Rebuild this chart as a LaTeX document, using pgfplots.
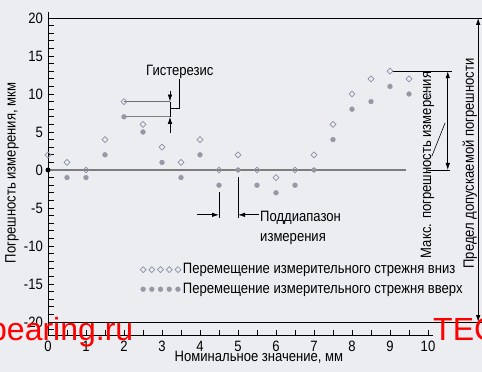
\documentclass[border=0pt]{standalone}
\usepackage{pgfplots}
\pgfplotsset{compat=1.18}
\usepackage{fontspec}
\setmainfont{Liberation Sans}[FakeStretch=0.87]
\newfontfamily\wmfont{Liberation Sans}
\usetikzlibrary{arrows.meta}
\definecolor{bg}{RGB}{236,237,240}
\definecolor{diacol}{RGB}{138,144,168}
\definecolor{dotcol}{RGB}{150,152,166}
\definecolor{zcol}{RGB}{125,125,125}
\newcommand\ff{\fontsize{15}{18}\selectfont}
\begin{document}
\ff
\begin{tikzpicture}[font=\ff, >={Latex[length=7pt,width=4.5pt]}]
\fill[bg] (-48pt,-202pt) rectangle (434pt,170pt);
\begin{axis}[
  at={(0,0)}, anchor=origin,
  x=38pt, y=7.6pt,
  xmin=0, xmax=10.13, ymin=-21.8, ymax=20.8,
  axis x line=bottom, axis y line=left,
  axis line style={-, line width=0.8pt, black},
  tick align=inside,
  major tick length=6pt, minor tick length=6pt,
  tick style={black, line width=0.7pt},
  xtick={0,...,10}, minor xtick={0.5,1.5,...,9.5},
  ytick={-20,-15,...,20}, minor ytick={-21,...,20},
  /pgf/number format/assume math mode=true,
  tick label style={font=\ff},
  clip=false,
  legend style={at={(axis cs:2.42,-14.4)}, anchor=west, draw=none, fill=none,
    font=\ff, row sep=3pt, inner sep=0pt},
  legend cell align=left,
  legend image code/.code={\draw[#1] plot[only marks] coordinates {(0pt,0pt)(8.7pt,0pt)(17.4pt,0pt)(26.1pt,0pt)(34.8pt,0pt)};},
]
% zero line
\draw[zcol, line width=1.8pt] (0,0) -- (9.42,0);
% hysteresis lines
\draw[gray!85!black, line width=1pt] (2,9) -- (3.21,9);
\draw[zcol, line width=1.4pt] (2,7) -- (3.21,7);

\addplot[only marks, mark=square, mark size=2.1pt,
  mark options={rotate=45, draw=diacol, fill=white, line width=0.7pt}]
  coordinates {(0,2)(0.5,1)(1,0)(1.5,4)(2,9)(2.5,6)(3,3)(3.5,1)(4,4)(4.5,0)
  (5,2)(5.5,0)(6,-1)(6.5,0)(7,2)(7.5,6)(8,10)(8.5,12)(9,13)(9.5,12)(10,10)};
\addlegendentry{Перемещение измерительного стрежня вниз}
\addplot[only marks, mark=*, mark size=2.4pt,
  mark options={draw=dotcol, fill=dotcol}]
  coordinates {(0.5,-1)(1,-1)(1.5,2)(2,7)(2.5,5)(3,1)(3.5,-1)(4,2)(4.5,-2)
  (5,0)(5.5,-2)(6,-3)(6.5,-2)(7,0)(7.5,4)(8,8)(8.5,9)(9,11)(9.5,10)};
\addlegendentry{Перемещение измерительного стрежня вверх}
\addplot[only marks, mark=*, mark size=2.2pt, black, forget plot] coordinates {(0,0)};

% hysteresis annotation
\draw[line width=0.8pt, ->] (3.21,10.4) -- (3.21,9);
\draw[line width=0.8pt, ->] (3.21,4.9) -- (3.21,7);
\draw[line width=0.8pt] (3.21,9) -- (3.21,7);
\draw[line width=0.8pt] (3.21,8.1) -- (3.47,8.1) -- (3.47,12.0);
\node at (3.47,12.85) {Гистерезис};

% sub-range annotation
\draw[line width=0.8pt] (4.5,-2.9) -- (4.5,-6.3);
\draw[line width=0.8pt] (5,-0.9) -- (5,-6.3);
\draw[line width=0.8pt, ->] (3.92,-5.9) -- (4.5,-5.9);
\draw[line width=0.8pt, ->] (5.55,-5.9) -- (5,-5.9);
\node[anchor=west, inner sep=0pt] at (5.58,-6.3) {Поддиапазон};
\node[anchor=west, inner sep=0pt] at (5.58,-9.1) {измерения};

% max error annotation
\draw[line width=0.8pt] (9.05,13) -- (10.63,13);
\draw[line width=0.8pt] (10.0,0) -- (10.58,0);
\draw[line width=0.8pt, <->] (10.52,13) -- (10.52,0);
\draw[line width=0.6pt] (10.45,6.2) -- (10.1,1.8);
\node[rotate=90] at (9.99,0.66) {Макс. погрешность измерения};

% limit lines
\draw[line width=0.8pt] (0,20) -- (11.42,20);
\draw[line width=0.8pt] (0,-20) -- (11.42,-20);
\draw[line width=0.8pt, <->] (11.32,20) -- (11.32,-20);
\node[rotate=90] at (11.1,0.85) {Предел допускаемой погрешности};

% axis labels
\node[rotate=90] at (-0.95,-0.4) {Погрешность измерения, мкм};
\node at (5.55,-24.7) {Номинальное значение, мм};
\end{axis}
\node[anchor=base west, text=red, font=\wmfont\fontsize{32}{36}\selectfont, inner sep=0pt] at (-59pt,-170pt) {bearing.ru};
\node[anchor=base west, text=red, font=\wmfont\fontsize{32}{36}\selectfont, inner sep=0pt] at (385pt,-170pt) {TEC};
\pgfresetboundingbox
\useasboundingbox (-48pt,-202pt) rectangle (434pt,170pt);
\end{tikzpicture}
\end{document}
